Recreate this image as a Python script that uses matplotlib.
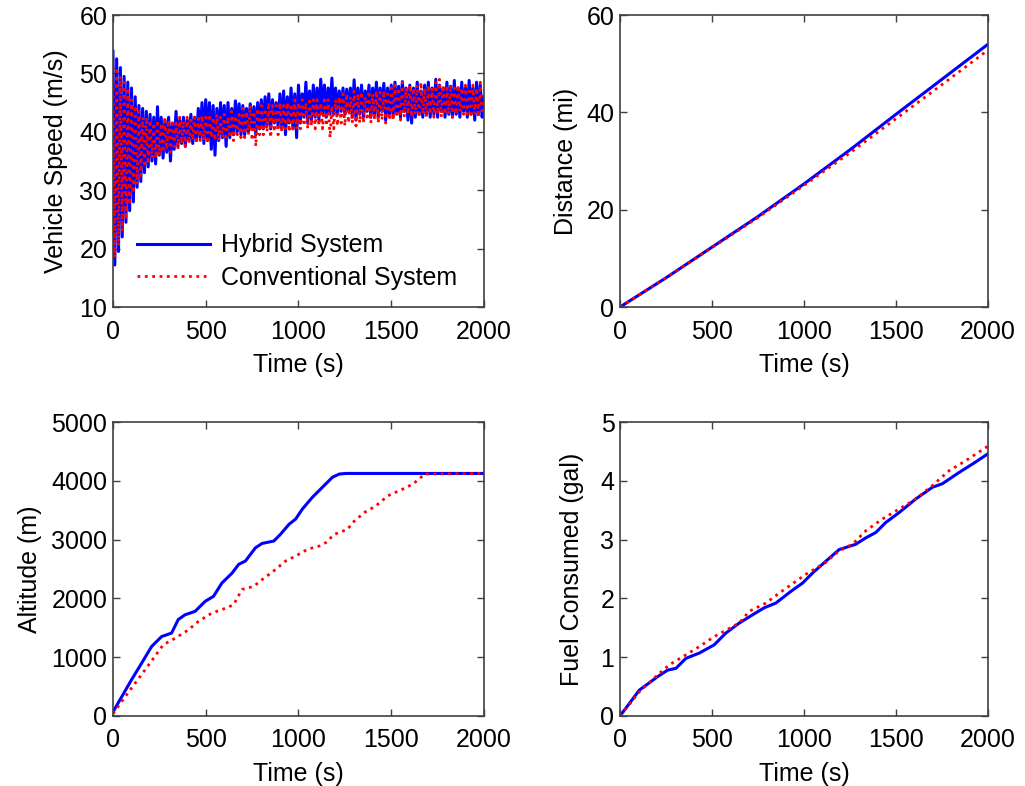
import numpy as np
import matplotlib.pyplot as plt

# --- speed (m/s), sampled every 10 s ---
t_speed = np.arange(0, 2001, 10)
speed_hybrid = [
    53.8, 17.2, 52.5, 19.5, 51.0, 22.0, 49.5, 24.5, 48.5, 26.5,
    47.5, 28.0, 46.0, 30.5, 44.5, 31.5, 44.0, 33.0, 43.5, 34.0,
    43.0, 35.0, 42.5, 34.5, 44.3, 36.0, 42.5, 35.5, 42.0, 36.5,
    42.5, 35.0, 41.5, 37.0, 43.5, 37.5, 42.0, 38.0, 42.5, 37.5,
    42.0, 38.5, 43.0, 38.0, 42.5, 38.5, 44.0, 39.0, 45.0, 38.0,
    45.5, 38.5, 45.0, 37.0, 44.5, 36.0, 44.0, 38.5, 45.0, 39.0,
    44.5, 37.5, 45.0, 39.0, 44.0, 39.5, 45.3, 40.0, 44.8, 39.5,
    44.5, 39.5, 44.0, 40.0, 44.8, 40.5, 44.3, 39.5, 45.0, 40.5,
    45.5, 40.5, 46.0, 41.0, 46.5, 40.5, 45.5, 41.5, 45.0, 41.0,
    46.5, 40.5, 47.0, 39.5, 46.0, 41.5, 47.5, 40.5, 46.5, 39.0,
    48.0, 41.5, 46.5, 42.5, 48.5, 41.5, 47.0, 42.0, 48.0, 42.5,
    47.5, 42.0, 49.0, 43.0, 48.0, 42.5, 47.5, 43.0, 49.2, 43.0,
    47.5, 43.0, 47.0, 43.5, 47.5, 43.0, 47.3, 43.5, 47.5, 42.5,
    48.9, 42.0, 47.5, 43.0, 48.0, 42.5, 47.0, 43.5, 48.0, 42.5,
    47.5, 43.0, 48.5, 42.5, 47.5, 43.5, 48.3, 42.0, 47.5, 43.0,
    48.0, 42.5, 48.5, 43.0, 47.8, 42.5, 48.6, 43.5, 47.5, 42.0,
    48.0, 41.5, 47.5, 42.5, 48.5, 43.0, 47.0, 42.5, 48.0, 43.0,
    48.5, 42.5, 47.5, 43.0, 49.0, 42.5, 48.0, 43.5, 47.5, 42.5,
    48.5, 43.0, 47.8, 42.5, 48.8, 43.0, 47.5, 42.5, 48.5, 43.5,
    47.5, 42.5, 48.8, 43.0, 47.5, 42.0, 48.5, 43.0, 48.0, 42.5,
    46.0,
]
speed_conv = [
    52.5, 18.5, 51.0, 20.5, 49.5, 23.0, 48.5, 25.0, 47.0, 27.5,
    45.5, 29.5, 44.5, 31.0, 43.5, 32.5, 42.5, 34.0, 42.5, 34.5,
    42.0, 35.5, 41.5, 35.5, 42.0, 36.0, 41.5, 36.5, 42.5, 37.0,
    42.0, 36.5, 42.0, 37.5, 41.5, 37.0, 42.5, 38.0, 41.8, 37.5,
    42.5, 38.0, 42.0, 38.5, 42.5, 38.0, 42.3, 38.5, 42.8, 38.5,
    42.5, 38.0, 43.0, 39.0, 42.5, 38.5, 43.0, 38.5, 42.5, 39.0,
    43.0, 38.5, 42.5, 39.0, 43.5, 38.5, 42.8, 39.5, 43.0, 39.0,
    44.0, 39.0, 43.5, 39.5, 44.5, 38.5, 43.5, 37.5, 44.0, 39.5,
    44.5, 39.5, 44.0, 40.0, 45.0, 39.0, 44.5, 40.0, 44.5, 39.5,
    45.0, 40.0, 44.5, 40.5, 45.0, 40.0, 44.8, 40.5, 45.5, 40.5,
    45.0, 40.5, 45.5, 41.0, 45.0, 40.5, 45.8, 41.0, 45.5, 40.5,
    45.5, 41.0, 45.0, 40.5, 46.0, 41.0, 45.5, 39.0, 44.5, 40.5,
    45.5, 41.0, 46.0, 41.5, 46.5, 41.0, 46.5, 41.5, 46.0, 41.5,
    47.0, 41.0, 46.5, 41.5, 46.8, 41.5, 46.0, 42.0, 47.0, 41.5,
    46.5, 42.0, 47.0, 41.5, 46.8, 42.0, 47.0, 41.5, 46.5, 42.0,
    47.5, 42.0, 48.0, 42.5, 47.5, 42.0, 48.5, 42.5, 47.5, 43.0,
    48.0, 42.5, 47.5, 43.0, 48.0, 42.5, 48.5, 43.0, 47.5, 42.5,
    48.0, 43.0, 47.5, 42.5, 48.5, 43.0, 49.0, 42.5, 48.0, 43.0,
    47.5, 43.0, 48.0, 42.5, 47.5, 43.0, 48.0, 43.5, 47.5, 43.0,
    48.0, 43.0, 47.5, 42.5, 48.0, 43.0, 47.5, 42.5, 48.5, 43.0,
    45.0,
]

# --- distance (mi) ---
t_dist = [0, 250, 500, 750, 1000, 1250, 1500, 1750, 2000]
dist_hybrid = [0, 6.0, 12.3, 18.6, 25.3, 32.3, 39.6, 46.8, 54.0]
dist_conv = [0, 6.0, 12.2, 18.4, 25.0, 31.7, 38.7, 45.7, 52.8]

# --- altitude (m) ---
t_alt_hybrid = [0, 99, 154, 208, 262, 316, 352, 388, 443, 497, 542, 587, 642,
                678, 714, 768, 804, 867, 903, 949, 985, 1021, 1075, 1129,
                1183, 1220, 1256, 2000]
alt_hybrid = [68, 610, 895, 1180, 1350, 1410, 1640, 1720, 1780, 1950, 2035,
              2260, 2430, 2580, 2635, 2860, 2935, 2975, 3090, 3260, 3350,
              3520, 3720, 3890, 4060, 4115, 4125, 4125]
t_alt_conv = [0, 99, 172, 271, 334, 407, 461, 533, 596, 650, 695, 759, 804,
              876, 930, 985, 1048, 1112, 1148, 1193, 1265, 1292, 1355, 1418,
              1482, 1563, 1617, 1681, 2000]
alt_conv = [40, 470, 780, 1210, 1320, 1465, 1610, 1750, 1820, 1890, 2150,
            2205, 2320, 2490, 2635, 2720, 2835, 2890, 2950, 3090, 3175, 3290,
            3460, 3575, 3745, 3860, 3945, 4115, 4125]

# --- fuel (gal) ---
t_fuel_hybrid = [0, 105, 205, 259, 304, 358, 431, 512, 575, 648, 720, 784,
                 847, 929, 992, 1046, 1118, 1191, 1281, 1336, 1390, 1444,
                 1517, 1607, 1698, 1752, 1842, 1933, 2000]
fuel_hybrid = [0, 0.44, 0.67, 0.78, 0.81, 0.98, 1.07, 1.21, 1.41, 1.58, 1.72,
               1.84, 1.92, 2.12, 2.26, 2.43, 2.63, 2.83, 2.92, 3.03, 3.12,
               3.29, 3.46, 3.69, 3.89, 3.95, 4.14, 4.32, 4.46]
t_fuel_conv = [0, 105, 205, 268, 358, 431, 512, 648, 702, 793, 865, 929,
               1010, 1118, 1191, 1263, 1336, 1426, 1517, 1607, 1698, 1788,
               1878, 2000]
fuel_conv = [0, 0.41, 0.70, 0.87, 1.04, 1.18, 1.35, 1.58, 1.78, 1.92, 2.09,
             2.23, 2.41, 2.61, 2.81, 2.92, 3.15, 3.35, 3.52, 3.69, 3.92,
             4.17, 4.34, 4.59]

plt.rcParams['font.family'] = ['Liberation Sans', 'DejaVu Sans']
plt.rcParams['font.size'] = 18

fig = plt.figure(figsize=(10.25, 7.86), dpi=100)
ax1 = fig.add_axes([0.1102, 0.6094, 0.3620, 0.3715])
ax2 = fig.add_axes([0.6049, 0.6094, 0.3590, 0.3715])
ax3 = fig.add_axes([0.1102, 0.0891, 0.3620, 0.3740])
ax4 = fig.add_axes([0.6049, 0.0891, 0.3590, 0.3740])

blue = dict(color='#0000ff', lw=2.2, ls='-')
red = dict(color='#ff0000', lw=2.0, ls=':')

ax1.plot(t_speed, speed_hybrid, label='Hybrid System', **blue)
ax1.plot(t_speed, speed_conv, label='Conventional System', **red)
ax1.set_ylim(10, 60)
ax1.set_ylabel('Vehicle Speed (m/s)', labelpad=8)
ax1.legend(loc='lower left', bbox_to_anchor=(0.038, 0.024), frameon=False,
           handlelength=2.9, handletextpad=0.45, labelspacing=0.35,
           borderaxespad=0.0)

ax2.plot(t_dist, dist_hybrid, **blue)
ax2.plot(t_dist, dist_conv, **red)
ax2.set_ylim(0, 60)
ax2.set_yticks([0, 20, 40, 60])
ax2.set_ylabel('Distance (mi)', labelpad=6)

ax3.plot(t_alt_hybrid, alt_hybrid, **blue)
ax3.plot(t_alt_conv, alt_conv, **red)
ax3.set_ylim(0, 5000)
ax3.set_ylabel('Altitude (m)', labelpad=7)

ax4.plot(t_fuel_hybrid, fuel_hybrid, **blue)
ax4.plot(t_fuel_conv, fuel_conv, **red)
ax4.set_ylim(0, 5)
ax4.set_ylabel('Fuel Consumed (gal)', labelpad=12)

for ax in (ax1, ax2, ax3, ax4):
    ax.set_xlim(0, 2000)
    ax.set_xticks([0, 500, 1000, 1500, 2000])
    ax.set_xlabel('Time (s)', labelpad=7)
    ax.tick_params(direction='in', top=True, right=True, length=5,
                   width=1, color='#404040', pad=4)
    ax.tick_params(axis='x', pad=9)
    for s in ax.spines.values():
        s.set_color('#404040')
        s.set_linewidth(1.2)

fig.savefig('out.png', dpi=100)
